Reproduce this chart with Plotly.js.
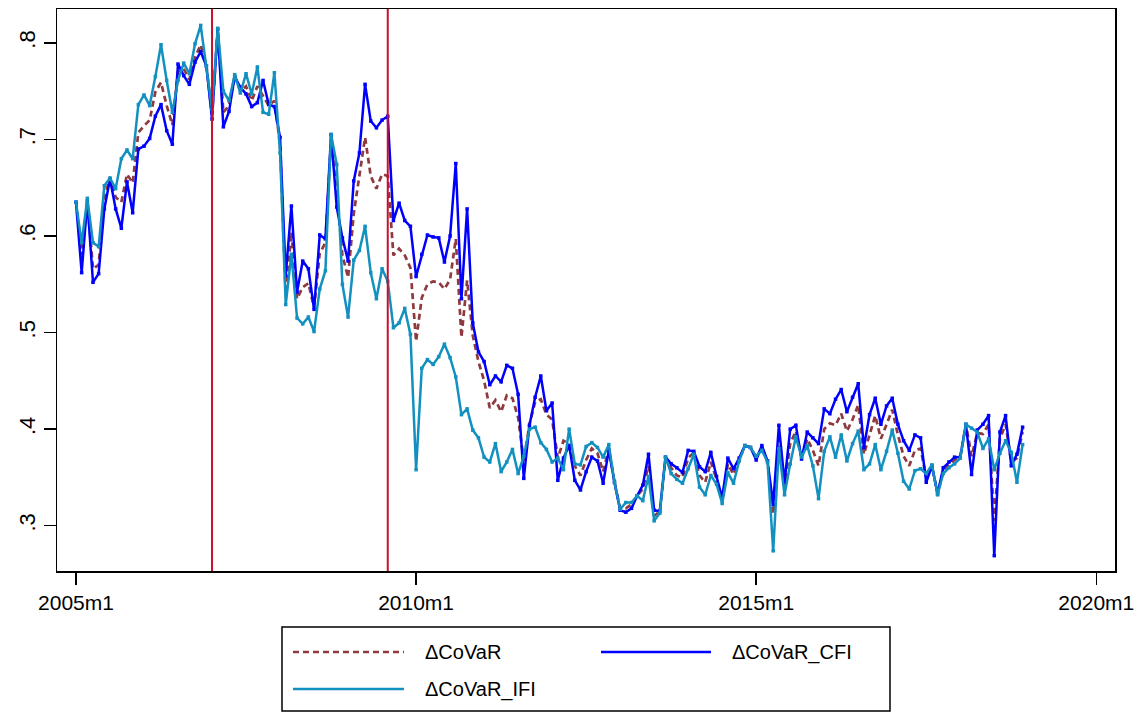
<!DOCTYPE html>
<html>
<head>
<meta charset="utf-8">
<script src="https://cdn.plot.ly/plotly-3.0.1.min.js"></script>
<style>html,body{margin:0;padding:0;background:#fff;}#chart{width:1147px;height:713px;}</style>
</head>
<body>
<div id="chart"></div>
<script>
// ---- data: monthly, starting 2005m1 ----
const startYear = 2005;
const nMonths = 168;

const covar = [
0.635,0.580,0.637,0.566,0.570,0.640,0.660,0.640,0.635,0.664,0.655,0.707,
0.714,0.720,0.749,0.759,0.735,0.715,0.770,0.773,0.762,0.785,0.798,0.777,
0.725,0.814,0.728,0.735,0.766,0.750,0.755,0.740,0.755,0.745,0.735,0.740,
0.695,0.540,0.604,0.535,0.547,0.551,0.526,0.582,0.593,0.699,0.644,0.580,
0.557,0.623,0.662,0.702,0.662,0.649,0.664,0.662,0.580,0.587,0.580,0.567,
0.491,0.536,0.550,0.553,0.552,0.545,0.555,0.597,0.495,0.554,0.497,0.470,
0.450,0.422,0.430,0.418,0.435,0.432,0.412,0.367,0.405,0.428,0.431,0.415,
0.410,0.370,0.388,0.385,0.362,0.352,0.368,0.380,0.375,0.356,0.380,0.345,
0.318,0.318,0.322,0.331,0.338,0.362,0.310,0.315,0.370,0.360,0.352,0.350,
0.370,0.376,0.352,0.345,0.366,0.348,0.327,0.364,0.353,0.369,0.383,0.381,
0.370,0.381,0.366,0.312,0.390,0.340,0.385,0.398,0.370,0.390,0.378,0.362,
0.400,0.406,0.404,0.416,0.398,0.410,0.425,0.374,0.393,0.414,0.390,0.405,
0.420,0.394,0.372,0.362,0.378,0.380,0.350,0.362,0.333,0.356,0.363,0.368,
0.371,0.405,0.372,0.396,0.395,0.405,0.305,0.390,0.405,0.366,0.370,0.397];

const covarCFI = [
0.635,0.562,0.636,0.552,0.561,0.628,0.659,0.628,0.608,0.656,0.624,0.690,
0.693,0.701,0.724,0.736,0.709,0.695,0.778,0.766,0.757,0.780,0.791,0.776,
0.721,0.814,0.713,0.729,0.765,0.754,0.747,0.734,0.738,0.761,0.736,0.734,
0.702,0.559,0.631,0.542,0.574,0.566,0.524,0.601,0.597,0.705,0.630,0.598,
0.574,0.657,0.686,0.757,0.719,0.712,0.720,0.724,0.616,0.634,0.616,0.610,
0.558,0.581,0.601,0.599,0.598,0.573,0.600,0.675,0.535,0.628,0.510,0.480,
0.470,0.446,0.455,0.449,0.466,0.463,0.436,0.349,0.404,0.433,0.455,0.419,
0.427,0.347,0.370,0.383,0.347,0.337,0.356,0.371,0.367,0.344,0.378,0.345,
0.316,0.314,0.318,0.331,0.342,0.374,0.316,0.315,0.371,0.364,0.360,0.355,
0.378,0.377,0.361,0.356,0.376,0.351,0.329,0.370,0.359,0.370,0.383,0.381,
0.368,0.383,0.367,0.322,0.404,0.345,0.400,0.404,0.369,0.397,0.391,0.385,
0.421,0.416,0.431,0.441,0.418,0.433,0.447,0.381,0.415,0.432,0.405,0.424,
0.432,0.405,0.388,0.378,0.394,0.391,0.345,0.362,0.333,0.360,0.366,0.371,
0.371,0.405,0.353,0.399,0.405,0.414,0.269,0.397,0.414,0.362,0.374,0.402];

const covarIFI = [
0.635,0.593,0.639,0.593,0.589,0.652,0.660,0.649,0.680,0.689,0.680,0.736,
0.746,0.735,0.765,0.798,0.761,0.728,0.761,0.779,0.768,0.799,0.818,0.776,
0.731,0.815,0.750,0.740,0.767,0.748,0.768,0.747,0.775,0.728,0.726,0.769,
0.686,0.529,0.581,0.515,0.509,0.516,0.501,0.545,0.564,0.705,0.674,0.550,
0.516,0.575,0.585,0.610,0.562,0.535,0.566,0.553,0.505,0.510,0.525,0.498,
0.358,0.463,0.472,0.467,0.475,0.488,0.474,0.454,0.415,0.421,0.399,0.391,
0.371,0.366,0.385,0.356,0.366,0.379,0.354,0.372,0.400,0.402,0.386,0.379,
0.366,0.370,0.358,0.400,0.364,0.363,0.382,0.386,0.381,0.371,0.384,0.345,
0.317,0.324,0.324,0.331,0.326,0.351,0.305,0.313,0.371,0.354,0.348,0.344,
0.359,0.374,0.340,0.332,0.352,0.343,0.323,0.355,0.344,0.367,0.383,0.381,
0.372,0.378,0.366,0.274,0.380,0.332,0.364,0.392,0.371,0.383,0.362,0.328,
0.377,0.392,0.371,0.394,0.367,0.385,0.398,0.358,0.364,0.384,0.358,0.377,
0.399,0.375,0.346,0.338,0.357,0.359,0.354,0.363,0.332,0.354,0.360,0.364,
0.370,0.405,0.401,0.397,0.380,0.390,0.358,0.375,0.388,0.376,0.345,0.384];

const seriesNames = ["\u0394CoVaR", "\u0394CoVaR_CFI", "\u0394CoVaR_IFI"];
const eventMonths = ["2007m1", "2009m8"];
const xTickLabels = ["2005m1", "2010m1", "2015m1", "2020m1"];
const yTickVals = [0.3, 0.4, 0.5, 0.6, 0.7, 0.8];
const yTickLabels = [".3", ".4", ".5", ".6", ".7", ".8"];

// month index (0 = 2005m1)
function monthIndex(lbl) {
  const p = lbl.split("m");
  return (parseInt(p[0]) - startYear) * 12 + parseInt(p[1]) - 1;
}
const months = [];
for (let i = 0; i < nMonths; i++) months.push(i);

const colDash = "#8f3a3e", colCFI = "#0000ff", colIFI = "#1290bf", colEvent = "#c8102e";
const FONT = "Liberation Sans, Arial, sans-serif";

const traces = [
  {x: months, y: covar, type: "scatter", mode: "lines", name: seriesNames[0],
   line: {color: colDash, width: 2.7, dash: "6px,4px"}, showlegend: false},
  {x: months, y: covarCFI, type: "scatter", mode: "lines+markers", name: seriesNames[1],
   line: {color: colCFI, width: 2.5}, marker: {color: colCFI, size: 3.5, symbol: "square"}, showlegend: false},
  {x: months, y: covarIFI, type: "scatter", mode: "lines+markers", name: seriesNames[2],
   line: {color: colIFI, width: 2.5}, marker: {color: colIFI, size: 3.5, symbol: "square"}, showlegend: false}
];

// layout geometry (pixels)
const W = 1147, H = 713;
const M = {l: 57, r: 32, t: 9, b: 142};
const PW = W - M.l - M.r, PH = H - M.t - M.b;
const px = v => (v - M.l) / PW;
const py = v => (H - M.b - v) / PH;

const shapes = [];
eventMonths.forEach(m => {
  shapes.push({type: "line", xref: "x", yref: "paper", x0: monthIndex(m), x1: monthIndex(m), y0: 0, y1: 1,
               line: {color: colEvent, width: 2}});
});
// custom legend box
shapes.push({type: "rect", xref: "paper", yref: "paper", x0: px(282), x1: px(890), y0: py(711), y1: py(627),
             line: {color: "#000", width: 1.5}, fillcolor: "rgba(0,0,0,0)"});
const legendItems = [
  {name: seriesNames[0], color: colDash, dash: "6px,4px", lx0: 293, lx1: 404, tx: 423, yy: 652},
  {name: seriesNames[1], color: colCFI, dash: "solid", lx0: 601, lx1: 711, tx: 730, yy: 652},
  {name: seriesNames[2], color: colIFI, dash: "solid", lx0: 293, lx1: 404, tx: 423, yy: 689}
];
const annotations = [];
legendItems.forEach(it => {
  shapes.push({type: "line", xref: "paper", yref: "paper", x0: px(it.lx0), x1: px(it.lx1), y0: py(it.yy), y1: py(it.yy),
               line: {color: it.color, width: 2.6, dash: it.dash}});
  annotations.push({xref: "paper", yref: "paper", x: px(it.tx), y: py(it.yy), xanchor: "left", yanchor: "middle",
                    text: it.name, showarrow: false, font: {family: FONT, size: 20, color: "#000"}});
});

const layout = {
  width: W, height: H,
  margin: M,
  paper_bgcolor: "#fff", plot_bgcolor: "#fff",
  showlegend: false,
  font: {family: FONT, color: "#000"},
  xaxis: {
    range: [-3.35, 183.3], showgrid: false, zeroline: false,
    tickmode: "array", tickvals: xTickLabels.map(monthIndex), ticktext: xTickLabels,
    ticks: "outside", ticklen: 12, tickwidth: 1.5, tickcolor: "#000",
    showline: true, linecolor: "#000", linewidth: 1.5, mirror: true,
    tickfont: {family: FONT, size: 21, color: "#000"}
  },
  yaxis: {
    range: [0.2531, 0.835], showgrid: false, zeroline: false,
    tickmode: "array", tickvals: yTickVals, ticktext: yTickLabels, tickangle: -90,
    ticks: "outside", ticklen: 12, tickwidth: 1.5, tickcolor: "#000",
    showline: true, linecolor: "#000", linewidth: 1.5, mirror: true,
    tickfont: {family: FONT, size: 22, color: "#000"}
  },
  shapes: shapes,
  annotations: annotations
};

Plotly.newPlot("chart", traces, layout, {staticPlot: true, displayModeBar: false});
</script>
</body>
</html>
